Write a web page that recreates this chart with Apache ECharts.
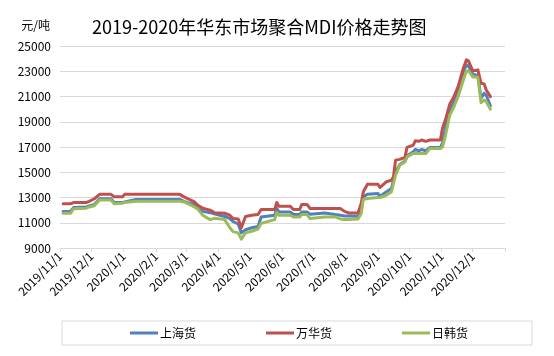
<!DOCTYPE html>
<html>
<head>
<meta charset="utf-8">
<script src="https://cdn.jsdelivr.net/npm/echarts@6/dist/echarts.min.js"></script>
<style>
html,body{margin:0;padding:0;background:#fff;}
#c{width:554px;height:356px;}
</style>
</head>
<body>
<div id="c"></div>
<script>
const dates = [
 '2019-11-04','2019-11-11','2019-11-14','2019-11-26','2019-11-29','2019-12-04','2019-12-09','2019-12-20','2019-12-23','2019-12-31',
 '2020-01-02','2020-01-13','2020-02-24','2020-02-28','2020-03-04','2020-03-09','2020-03-12','2020-03-17','2020-03-24','2020-03-28',
 '2020-04-07','2020-04-12','2020-04-15','2020-04-20','2020-04-23','2020-04-27','2020-05-03','2020-05-09','2020-05-12','2020-05-25',
 '2020-05-27','2020-05-29','2020-06-09','2020-06-12','2020-06-18','2020-06-20','2020-06-25','2020-06-28','2020-07-12','2020-07-22',
 '2020-07-27','2020-07-31','2020-08-04','2020-08-13','2020-08-16','2020-08-18','2020-08-22','2020-09-01','2020-09-03','2020-09-09',
 '2020-09-14','2020-09-16','2020-09-18','2020-09-22','2020-09-27','2020-09-29','2020-10-05','2020-10-07','2020-10-10','2020-10-13',
 '2020-10-17','2020-10-21','2020-10-31','2020-11-02','2020-11-05','2020-11-09','2020-11-13','2020-11-17','2020-11-18','2020-11-22',
 '2020-11-25','2020-11-27','2020-12-01','2020-12-04','2020-12-06','2020-12-09','2020-12-12','2020-12-14','2020-12-18'
];
const shanghai = [
 11900,11900,12200,12250,12330,12450,12900,12900,12600,12600,
 12650,12850,12850,12700,12550,12450,12150,11900,11800,11700,
 11500,11330,11100,10900,10200,10450,10600,10700,11450,11590,
 12130,11860,11860,11650,11650,11860,11860,11670,11780,11650,
 11600,11540,11540,11510,11990,13050,13260,13320,13100,13440,
 13710,14370,15030,15600,15900,16300,16620,16810,16700,16800,
 16700,16970,16970,17300,18600,19800,20590,21300,21650,22970,
 23500,23400,22800,22700,22650,20860,21260,21100,20270
];
const wanhua = [
 12500,12500,12600,12600,12700,12900,13250,13250,13050,13050,
 13250,13250,13250,13050,12850,12650,12400,12150,12000,11800,
 11750,11600,11330,11300,10600,11500,11600,11650,12050,12050,
 12600,12300,12300,12050,12050,12450,12450,12130,12130,12130,
 12130,11900,11780,11780,12520,13440,14050,14050,13790,14240,
 14370,14640,15960,16020,16180,16970,17150,17500,17450,17550,
 17450,17550,17550,18480,19200,20400,20990,21780,21800,23240,
 23900,23800,23050,23050,23110,22050,22000,21520,20990
];
const rihan = [
 11750,11750,12100,12150,12250,12350,12800,12800,12500,12550,
 12600,12700,12700,12650,12450,12250,12100,11600,11250,11350,
 11250,10600,10300,10200,9700,10200,10330,10500,10950,11250,
 11810,11590,11590,11460,11460,11650,11650,11330,11460,11460,
 11300,11250,11250,11300,11730,12840,12920,13000,13000,13180,
 13440,14110,14770,15560,15820,16220,16490,16490,16490,16490,
 16490,16890,16890,17000,17950,19530,20190,21000,21120,22310,
 23000,23050,22550,22550,22520,20510,20720,20600,19990
];
const monthTicks = [
 '2019-11-01','2019-12-01','2020-01-01','2020-02-01','2020-03-01','2020-04-01','2020-05-01',
 '2020-06-01','2020-07-01','2020-08-01','2020-09-01','2020-10-01','2020-11-01','2020-12-01','2021-01-01'
];
const seriesNames = ['上海货','万华货','日韩货'];
const colors = ['#4F81BD','#C0504D','#9BBB59'];

function ts(s){ const p = s.split('-'); return new Date(+p[0], +p[1]-1, +p[2]).getTime(); }
const tickTs = monthTicks.map(ts);
const labelTs = tickTs.slice(0, tickTs.length - 1);
const font = '"Noto Sans CJK SC","Noto Sans",sans-serif';

const values = [shanghai, wanhua, rihan];
const chart = echarts.init(document.getElementById('c'));
chart.setOption({
  animation: false,
  textStyle: {fontFamily: font},
  title: {
    text: '2019-2020年华东市场聚合MDI价格走势图',
    left: 92, top: 18, padding: 0,
    textStyle: {fontSize: 18, fontWeight: 'normal', color: '#000', fontFamily: font}
  },
  color: colors,
  grid: {left: 60, right: 49, top: 46, bottom: 108, containLabel: false},
  legend: {
    left: 62, top: 321,
    padding: [6, 64, 6, 68],
    itemGap: 70,
    itemWidth: 28, itemHeight: 3,
    icon: 'rect',
    borderColor: '#d9d9d9', borderWidth: 1,
    textStyle: {fontSize: 12, color: '#000', fontFamily: font, padding: [0,0,0,-3]},
    data: seriesNames
  },
  xAxis: {
    type: 'value',
    min: tickTs[0], max: tickTs[tickTs.length - 1],
    axisLine: {lineStyle: {color: '#d9d9d9'}},
    axisTick: {show: true, length: 4, lineStyle: {color: '#d9d9d9'}, customValues: tickTs},
    splitLine: {show: false},
    axisLabel: {
      customValues: labelTs,
      hideOverlap: false, showMinLabel: true, showMaxLabel: true,
      rotate: 45, fontSize: 12, color: '#000', margin: 6, fontFamily: font,
      formatter: function (v) { const d = new Date(v); return d.getFullYear() + '/' + (d.getMonth() + 1) + '/' + d.getDate(); }
    }
  },
  yAxis: {
    type: 'value',
    min: 9000, max: 25000, interval: 2000,
    name: '元/吨', nameLocation: 'end', nameGap: 15,
    nameTextStyle: {fontSize: 12, color: '#000', align: 'right', padding: [0, 10, 0, 0], fontFamily: font},
    axisLine: {show: false}, axisTick: {show: false},
    axisLabel: {fontSize: 12, color: '#000', margin: 9, fontFamily: font, formatter: function (v) { return String(v); }},
    splitLine: {lineStyle: {color: '#d9d9d9', width: 1}}
  },
  series: seriesNames.map((n, k) => ({
    name: n, type: 'line', showSymbol: false, symbol: 'none',
    lineStyle: {width: 3, color: colors[k], cap: 'round', join: 'round'},
    itemStyle: {color: colors[k]},
    data: dates.map((d, i) => [ts(d), values[k][i]])
  }))
});
</script>
</body>
</html>
